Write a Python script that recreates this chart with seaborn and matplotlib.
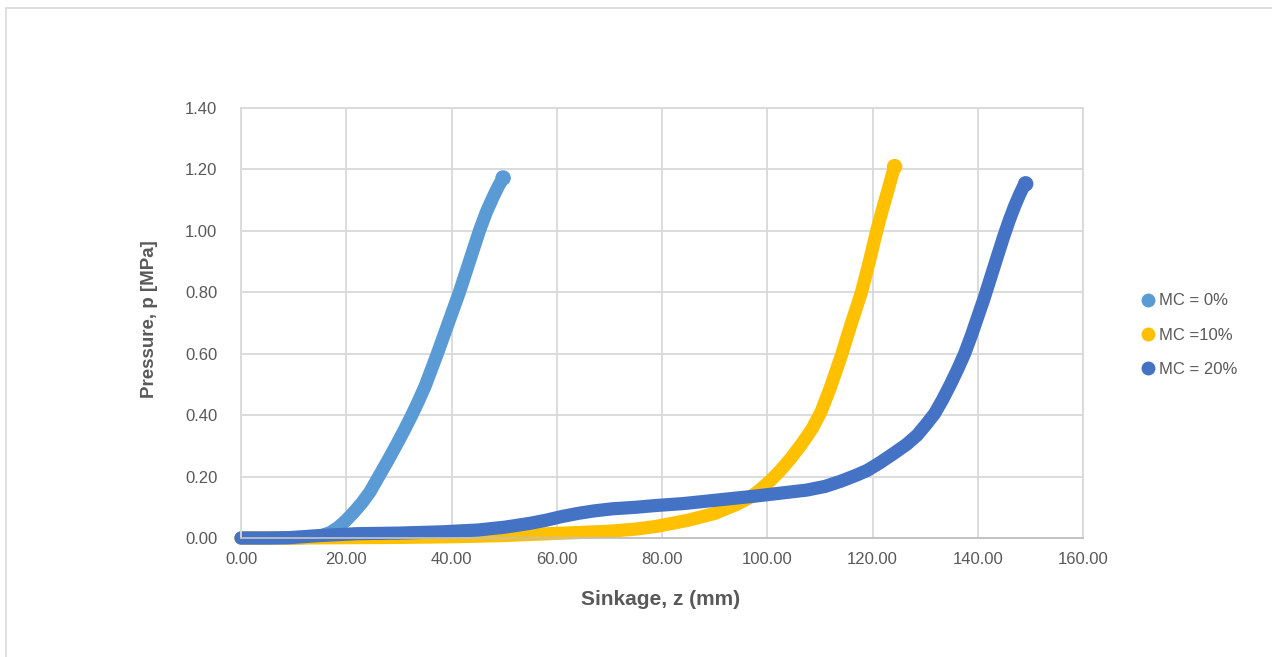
import numpy as np
import pandas as pd
import matplotlib
matplotlib.use("Agg")
import matplotlib.pyplot as plt
from matplotlib.lines import Line2D
from matplotlib.patches import Rectangle
import seaborn as sns

# values
z_mc0 = [0, 5, 10, 13, 15, 17, 18.5, 20, 21.5, 23, 24.5, 26, 28, 30, 31.2, 32.4, 33.7, 35, 37.2,
         39.4, 41.5, 43.4, 45.3, 46.6, 47.9, 48.9, 49.8]
p_mc0 = [0, 0, 0, 0.002, 0.006, 0.018, 0.035, 0.058, 0.085, 0.115, 0.15, 0.195, 0.255, 0.318,
         0.357, 0.398, 0.445, 0.495, 0.595, 0.70, 0.80, 0.90, 1.00, 1.06, 1.11, 1.145, 1.172]

z_mc10 = [0, 10, 20, 30, 40, 50, 57, 63, 70, 75, 79, 85, 90, 94, 96.5, 98.5, 100.5, 102.5,
          104.5, 106.5, 108.5, 110.2, 112, 114, 116, 117.9, 119.4, 120.8, 121.9, 122.9, 123.7,
          124.2]
p_mc10 = [0, 0, 0.001, 0.002, 0.004, 0.008, 0.013, 0.017, 0.022, 0.029, 0.038, 0.058, 0.08,
          0.108, 0.13, 0.155, 0.185, 0.22, 0.26, 0.305, 0.355, 0.41, 0.49, 0.59, 0.70, 0.80,
          0.90, 1.00, 1.07, 1.13, 1.18, 1.209]

z_mc20 = [0, 5, 9, 15, 22, 30, 38, 45, 50, 52, 55, 58, 61, 64, 67, 70.5, 75, 79, 84, 88.5, 93,
          98, 103, 107.5, 111, 114, 117, 119, 121.4, 124, 126.5, 128.5, 130.2, 131.8, 133.3,
          134.8, 136.2, 137.5, 138.8, 140, 141.2, 142.4, 143.6, 144.9, 146, 147, 148, 148.7,
          149.1]
p_mc20 = [0, 0, 0.001, 0.008, 0.014, 0.016, 0.02, 0.026, 0.035, 0.04, 0.048, 0.058, 0.07, 0.08,
          0.088, 0.095, 0.1, 0.106, 0.112, 0.12, 0.128, 0.137, 0.147, 0.156, 0.168, 0.185,
          0.205, 0.22, 0.245, 0.275, 0.305, 0.335, 0.37, 0.405, 0.45, 0.50, 0.55, 0.60, 0.66,
          0.72, 0.78, 0.845, 0.91, 0.98, 1.035, 1.08, 1.12, 1.145, 1.153]

labels = ["MC = 0%", "MC =10%", "MC = 20%"]
colors = ["#5B9BD5", "#FFC000", "#4472C4"]
x_ticks = [0, 20, 40, 60, 80, 100, 120, 140, 160]
y_ticks = [0, 0.2, 0.4, 0.6, 0.8, 1.0, 1.2, 1.4]

frames = []
for lab, z, p in zip(labels, [z_mc0, z_mc10, z_mc20], [p_mc0, p_mc10, p_mc20]):
    frames.append(pd.DataFrame({"z": z, "p": p, "series": lab}))
df = pd.concat(frames, ignore_index=True)
ends = df.groupby("series", sort=False).tail(1)

sns.set_style("white")
plt.rcParams['font.family'] = ['Liberation Sans', 'DejaVu Sans']

grid_c = "#D9D9D9"
text_c = "#595959"
pal = dict(zip(labels, colors))

fig = plt.figure(figsize=(12.72, 6.57), dpi=100)
ax = fig.add_axes([241 / 1272, 1 - 538 / 657, 842 / 1272, 430 / 657])

ax.grid(True, color=grid_c, linewidth=1.3)
ax.set_axisbelow(True)

sns.lineplot(data=df, x="z", y="p", hue="series", hue_order=labels,
             palette=pal, sort=False, estimator=None,
             linewidth=9.5, legend=False, ax=ax)
for line in ax.get_lines():
    line.set_solid_capstyle("round")
    line.set_solid_joinstyle("round")
    line.set_clip_on(False)
sns.scatterplot(data=ends, x="z", y="p", hue="series", hue_order=labels, palette=pal,
                s=125, linewidth=0, legend=False, ax=ax, clip_on=False)

ax.set_xlim(0, 160)
ax.set_ylim(0, 1.4)
ax.set_xticks(x_ticks)
ax.set_yticks(y_ticks)
ax.set_xticklabels(["%.2f" % v for v in x_ticks])
ax.set_yticklabels(["%.2f" % v for v in y_ticks])
ax.tick_params(axis="both", length=0, labelsize=12, labelcolor=text_c)
ax.tick_params(axis="x", pad=10)
ax.tick_params(axis="y", pad=17)
for s in ax.spines.values():
    s.set_color(grid_c)
    s.set_linewidth(1.3)
ax.spines["bottom"].set_color("#BFBFBF")

ax.set_xlabel("Sinkage, z (mm)", fontsize=15, fontweight="bold", color=text_c)
ax.set_ylabel("Pressure, p [MPa]", fontsize=13.5, fontweight="bold", color=text_c)
ax.xaxis.set_label_coords(0.498, -0.121)
ax.yaxis.set_label_coords(-0.099, 0.509)

handles = [Line2D([], [], marker="o", linestyle="", color=c, markersize=9) for c in colors]
fig.legend(handles, labels, loc="center left", bbox_to_anchor=(1131 / 1272, 1 - 335 / 657),
           frameon=False, fontsize=12, labelcolor=text_c, handletextpad=0.1,
           labelspacing=1.15, borderaxespad=0, handlelength=1.2)

fig.patches.append(Rectangle((6 / 1272, -0.1), 1.2, 1 - 8 / 657 + 0.1,
                             transform=fig.transFigure, fill=False,
                             edgecolor=grid_c, linewidth=1.2))

fig.savefig("out.png", dpi=100)
